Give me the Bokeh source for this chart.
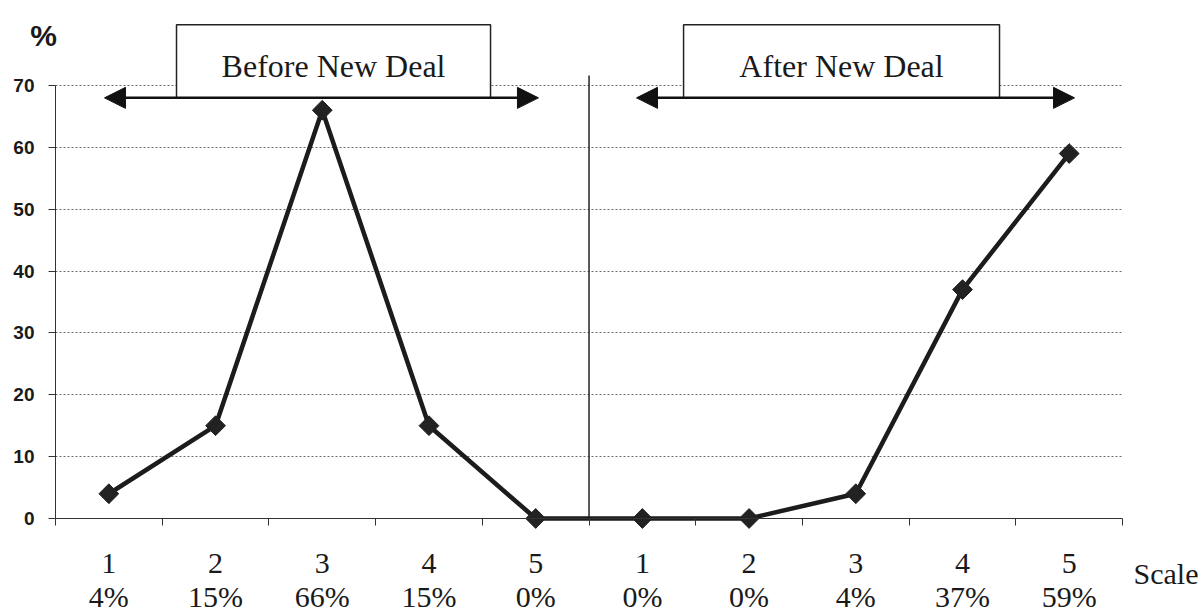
from math import pi
from bokeh.plotting import figure
from bokeh.models import (Range1d, FixedTicker, ColumnDataSource, LabelSet, Label,
                          BoxAnnotation, Arrow, NormalHead)
from bokeh.core.properties import value
from bokeh.embed import file_html
from bokeh.resources import INLINE

# ---- data ----
before_scale = ["1", "2", "3", "4", "5"]
after_scale = ["1", "2", "3", "4", "5"]
before_values = [4, 15, 66, 15, 0]
after_values = [0, 0, 4, 37, 59]
before_pct = ["4%", "15%", "66%", "15%", "0%"]
after_pct = ["0%", "0%", "4%", "37%", "59%"]
y_ticks = [0, 10, 20, 30, 40, 50, 60, 70]
group_titles = ["Before New Deal", "After New Deal"]
x_axis_title = "Scale"
y_axis_title = "%"

values = before_values + after_values
scale_labels = before_scale + after_scale
pct_labels = before_pct + after_pct
n = len(values)
xs = [i + 0.5 for i in range(n)]
n_before = len(before_values)
y_max = y_ticks[-1]

INK = "#1a1a1a"
SERIF = "Liberation Serif"
SANS = "Liberation Sans"

# frame covers the whole canvas; axes are pinned at data 0 with fixed_location
p = figure(width=1204, height=612,
           x_range=Range1d(-0.5155, 10.768), y_range=Range1d(-15.2, 83.74),
           output_backend="svg", toolbar_location=None,
           min_border_left=0, min_border_right=0,
           min_border_top=0, min_border_bottom=0)
p.outline_line_color = None
p.background_fill_color = "white"
p.border_fill_color = "white"

# grid
p.xgrid.visible = False
p.ygrid.ticker = FixedTicker(ticks=y_ticks[1:])
p.ygrid.grid_line_color = "#6a6a6a"
p.ygrid.grid_line_dash = "2 2"
p.ygrid.grid_line_width = 1
p.ygrid.cross_bounds = (0, n)

# y axis
p.yaxis.fixed_location = 0
p.yaxis.ticker = FixedTicker(ticks=y_ticks)
p.yaxis.bounds = (0, y_max)
p.yaxis.major_tick_out = 7
p.yaxis.major_tick_in = 0
p.yaxis.minor_tick_line_color = None
p.yaxis.axis_line_color = "#333333"
p.yaxis.major_tick_line_color = "#333333"
p.yaxis.major_label_text_font = SANS
p.yaxis.major_label_text_font_style = "bold"
p.yaxis.major_label_text_font_size = "19px"
p.yaxis.major_label_text_color = INK
p.yaxis.major_label_standoff = 14

# x axis (ticks at boundaries between categories)
p.xaxis.fixed_location = 0
p.xaxis.ticker = FixedTicker(ticks=list(range(n + 1)))
p.xaxis.bounds = (0, n)
p.xaxis.major_label_overrides = {i: "" for i in range(n + 1)}
p.xaxis.major_tick_out = 7
p.xaxis.major_tick_in = 0
p.xaxis.minor_tick_line_color = None
p.xaxis.axis_line_color = "#333333"
p.xaxis.major_tick_line_color = "#333333"

# separator between groups
p.segment(x0=[n_before], y0=[0], x1=[n_before], y1=[71.6],
          line_color="#222222", line_width=1.5)

# data line + markers
src = ColumnDataSource(dict(x=xs, y=values, scale=scale_labels, pct=pct_labels))
p.line("x", "y", source=src, line_width=4.5, line_color="#1c1c1c")
p.scatter("x", "y", source=src, marker="square", size=14, angle=pi / 4,
          fill_color="#222222", line_color="#222222")

# group boxes and arrows
boxes = [(1.134, 4.077), (5.886, 8.847)]
arrows = [(0.459, 4.526), (5.445, 9.550)]
for (l, r), (a0, a1), title in zip(boxes, arrows, group_titles):
    p.add_layout(BoxAnnotation(left=l, right=r, bottom=68.0, top=79.8,
                               fill_color="white", fill_alpha=1.0,
                               line_color="#222222", line_alpha=1.0, line_width=1.5))
    p.add_layout(Arrow(x_start=a0, y_start=68.0, x_end=a1, y_end=68.0,
                       line_width=2.5, line_color="#111111",
                       start=NormalHead(size=21, fill_color="#111111", line_color="#111111"),
                       end=NormalHead(size=21, fill_color="#111111", line_color="#111111")))
    p.add_layout(Label(x=(l + r) / 2, y=73.2, text=title, text_align="center",
                       text_baseline="alphabetic", text_font=SERIF,
                       text_font_size="32px", text_color=INK))

# category labels below axis
p.add_layout(LabelSet(x="x", y=-8.89, text="scale", source=src, text_align="center",
                      text_baseline="alphabetic", text_font=value(SERIF),
                      text_font_size="30px", text_color=INK))
p.add_layout(LabelSet(x="x", y=-14.39, text="pct", source=src, text_align="center",
                      text_baseline="alphabetic", text_font=value(SERIF),
                      text_font_size="30px", text_color=INK))

# axis titles
p.add_layout(Label(x=10.103, y=-8.89, text=x_axis_title, text_align="left",
                   text_baseline="alphabetic", text_font=SERIF,
                   text_font_size="30px", text_color=INK))
p.add_layout(Label(x=-0.1125, y=78.08, text=y_axis_title, text_align="center",
                   text_baseline="alphabetic", text_font=SANS, text_font_style="bold",
                   text_font_size="30px", text_color=INK))

open("out.html", "w").write(file_html(p, INLINE))
